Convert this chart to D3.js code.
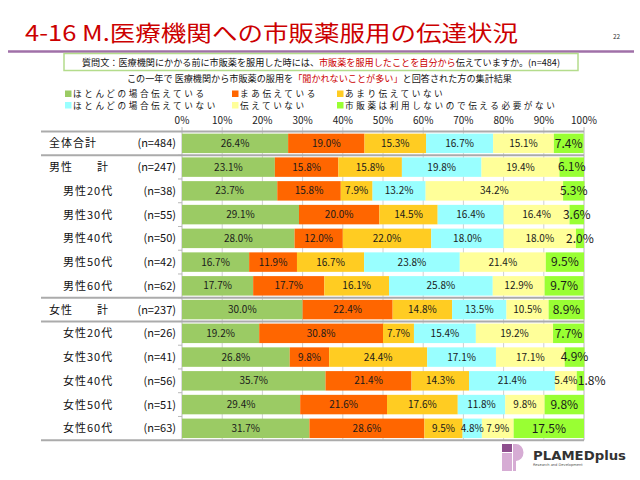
<!DOCTYPE html>
<html><head><meta charset="utf-8">
<script src="https://cdn.jsdelivr.net/npm/d3@7"></script>
<style>body{margin:0;background:#fff} svg{display:block;font-family:"Noto Sans CJK JP","Noto Sans",sans-serif}</style>
</head><body><svg id="c" width="640" height="480"></svg>
<script>
const categories = ["全体合計","男性　　計","男性20代","男性30代","男性40代","男性50代","男性60代","女性　　計","女性20代","女性30代","女性40代","女性50代","女性60代"];
const sampleSizes = ["(n=484)","(n=247)","(n=38)","(n=55)","(n=50)","(n=42)","(n=62)","(n=237)","(n=26)","(n=41)","(n=56)","(n=51)","(n=63)"];
const seriesNames = ["ほとんどの場合伝えている","まあ伝えている","あまり伝えていない","ほとんどの場合伝えていない","伝えていない","市販薬は利用しないので伝える必要がない"];
const seriesColors = ["#9bcb64","#ff6600","#ffcc22","#99ffff","#ffff99","#99ff33"];
const almostAlways   = [26.4,23.1,23.7,29.1,28.0,16.7,17.7,30.0,19.2,26.8,35.7,29.4,31.7];
const fairly         = [19.0,15.8,15.8,20.0,12.0,11.9,17.7,22.4,30.8, 9.8,21.4,21.6,28.6];
const notMuch        = [15.3,15.8, 7.9,14.5,22.0,16.7,16.1,14.8, 7.7,24.4,14.3,17.6, 9.5];
const mostlyNot      = [16.7,19.8,13.2,16.4,18.0,23.8,25.8,13.5,15.4,17.1,21.4,11.8, 4.8];
const notAtAll       = [15.1,19.4,34.2,16.4,18.0,21.4,12.9,10.5,19.2,17.1, 5.4, 9.8, 7.9];
const noNeed         = [ 7.4, 6.1, 5.3, 3.6, 2.0, 9.5, 9.7, 8.9, 7.7, 4.9, 1.8, 9.8,17.5];
const tickValues = [0,10,20,30,40,50,60,70,80,90,100];
const tickLabels = ["0%","10%","20%","30%","40%","50%","60%","70%","80%","90%","100%"];

const seriesValues = [almostAlways, fairly, notMuch, mostlyNot, notAtAll, noNeed];
const keys = seriesNames;
const rows = categories.map((c,i)=>{const o={cat:c,n:sampleSizes[i]}; keys.forEach((k,j)=>o[k]=seriesValues[j][i]); return o;});

const svg = d3.select("#c");
const x = d3.scaleLinear().domain([0,100]).range([182,584]);
const y = d3.scaleBand().domain(categories).range([131.5,440.2]).paddingInner(0.18).paddingOuter(0.09);
const color = d3.scaleOrdinal().domain(keys).range(seriesColors);

// Title
svg.append("text").attr("x",25).attr("y",41).attr("fill","#cc0000").attr("font-size",22)
  .attr("textLength",493).attr("lengthAdjust","spacingAndGlyphs")
  .text("4-16 M.医療機関への市販薬服用の伝達状況");
svg.append("text").attr("x",613).attr("y",39).attr("font-size",6.5).attr("fill","#333").text("22");
svg.append("line").attr("x1",8).attr("x2",634).attr("y1",51.5).attr("y2",51.5).attr("stroke","#a070a8").attr("stroke-width",2.5);

// Question box
svg.append("rect").attr("x",64).attr("y",53.5).attr("width",514).attr("height",17).attr("fill","#fff").attr("stroke","#b4dc8c").attr("stroke-width",1.5);
const q = svg.append("text").attr("x",82).attr("y",66).attr("font-size",9.2).attr("fill","#111")
  .attr("textLength",478).attr("lengthAdjust","spacingAndGlyphs");
q.append("tspan").text("質問文：医療機関にかかる前に市販薬を服用した時には、");
q.append("tspan").attr("fill","#cc0000").text("市販薬を服用したことを自分から");
q.append("tspan").text("伝えていますか。(n=484)");

const s = svg.append("text").attr("x",127).attr("y",82).attr("font-size",9).attr("fill","#111")
  .attr("textLength",385).attr("lengthAdjust","spacingAndGlyphs");
s.append("tspan").text("この一年で 医療機関から市販薬の服用を");
s.append("tspan").attr("fill","#cc0000").text("「聞かれないことが多い」");
s.append("tspan").text("と回答された方の集計結果");

// Legend
const legX = [65,232,337], legY = [90.5,102];
keys.forEach((k,i)=>{
  const gx = legX[i%3], gy = legY[Math.floor(i/3)];
  svg.append("rect").attr("x",gx).attr("y",gy).attr("width",6.5).attr("height",6.5).attr("fill",color(k));
  svg.append("text").attr("x",gx+8).attr("y",gy+6.6).attr("font-size",8.6).attr("letter-spacing",2.6).attr("fill","#111").text(k);
});

// Gridlines
const gridTop = 127, gridBottom = y.range()[1];
svg.append("g").selectAll("line").data(tickValues).join("line")
  .attr("x1",d=>x(d)).attr("x2",d=>x(d)).attr("y1",gridTop).attr("y2",gridBottom)
  .attr("stroke",d=>(d===0||d===100)?"#b8b8b8":"#d0d0d0").attr("stroke-width",1);

// Axis labels
svg.append("g").selectAll("text").data(tickValues).join("text")
  .attr("x",d=>x(d)).attr("y",123.5).attr("text-anchor","middle").attr("font-size",10).attr("fill","#222")
  .text((d,i)=>tickLabels[i]);

// left ticks at row boundaries
const step = y.step();
d3.range(categories.length+1).forEach(i=>{
  const yy = y.range()[0] + i*step;
  svg.append("line").attr("x1",178).attr("x2",182).attr("y1",yy).attr("y2",yy).attr("stroke","#b8b8b8");
});

// Bars
const stacked = d3.stack().keys(keys)(rows);
const g = svg.append("g");
stacked.forEach((ser,si)=>{
  g.selectAll(null).data(ser).join("rect")
    .attr("x",d=>x(d[0])).attr("width",d=>x(d[1])-x(d[0]))
    .attr("y",d=>y(d.data.cat)).attr("height",y.bandwidth())
    .attr("fill",color(ser.key));
});
stacked.forEach((ser,si)=>{
  const last = si===keys.length-1;
  g.selectAll(null).data(ser).join("text")
    .attr("x",d=>{const v=d[1]-d[0]; return (last && v<2)? x(d[0])+1 : (x(d[0])+x(d[1]))/2;})
    .attr("text-anchor",d=>{const v=d[1]-d[0]; return (last && v<2)?"start":"middle";})
    .attr("y",d=>y(d.data.cat)+y.bandwidth()/2).attr("dy","0.36em")
    .attr("font-size",last?12:10).attr("fill","#1a1a1a")
    .text(d=>(d[1]-d[0]).toFixed(1)+"%");
});

// Separators
const sepIdx = [0,1,7,8,13];
sepIdx.forEach(i=>{
  const yy = y.range()[0] + i*step;
  svg.append("line").attr("x1",41).attr("x2",584).attr("y1",yy).attr("y2",yy).attr("stroke","#ababab").attr("stroke-width",2);
});

// Row labels
rows.forEach((r,i)=>{
  const cy = y(r.cat)+y.bandwidth()/2;
  const isTotal = i===0 || r.cat.indexOf("　")>=0;
  svg.append("text").attr("x",isTotal?49:63).attr("y",cy).attr("dy","0.36em").attr("font-size",11).attr("letter-spacing",1).attr("fill","#111").text(r.cat);
  svg.append("text").attr("x",176).attr("y",cy).attr("dy","0.36em").attr("text-anchor","end").attr("font-size",11).attr("fill","#111").text(r.n);
});

// Logo
const logo = svg.append("g");
logo.append("rect").attr("x",502).attr("y",444).attr("width",10).attr("height",8).attr("fill","#8e4f8e");
logo.append("rect").attr("x",502).attr("y",453).attr("width",10).attr("height",18).attr("fill","#d6acd4");
logo.append("path").attr("d","M513,444 h3 a7.5,8.5 0 0 1 0,17 h-0 v10 h-3 z").attr("fill","#d6acd4");
logo.append("text").attr("x",533).attr("y",459.5).attr("font-family","DejaVu Sans").attr("font-weight","bold").attr("font-size",12.5)
  .attr("fill","#333").attr("textLength",93).attr("lengthAdjust","spacingAndGlyphs").text("PLAMEDplus");
logo.append("text").attr("x",533).attr("y",465.5).attr("font-family","DejaVu Sans").attr("font-size",3.6).attr("fill","#555").text("Research and Development");
</script></body></html>
